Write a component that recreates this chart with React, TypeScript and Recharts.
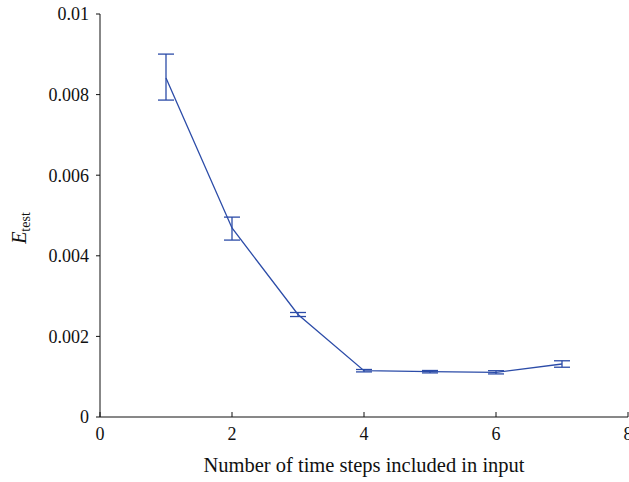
import React from "react";
import { LineChart, Line, XAxis, YAxis, ErrorBar } from "recharts";

const steps = [1, 2, 3, 4, 5, 6, 7];
const eTest = [0.00841, 0.00469, 0.002543, 0.001149, 0.001124, 0.001109, 0.001315];
const errLow = [0.000546, 0.0003, 0.00005, 0.00003, 0.00003, 0.00004, 0.00008];
const errHigh = [0.000595, 0.00027, 0.00005, 0.00003, 0.00003, 0.00004, 0.00008];
const xTicks = [0, 2, 4, 6, 8];
const yTicks = [0, 0.002, 0.004, 0.006, 0.008, 0.01];

const data = steps.map((s, i) => ({ x: s, y: eTest[i], err: [errLow[i], errHigh[i]] }));

const FONT = "'Liberation Serif', 'Times New Roman', serif";
const BLUE = "#2c4ca8";

const YLabel = () => (
  <text
    x={26}
    y={228}
    transform="rotate(-90, 26, 228)"
    textAnchor="middle"
    fontFamily={FONT}
    fontSize={20}
    fill="#111"
  >
    <tspan fontStyle="italic">E</tspan>
    <tspan fontSize={14} dy={4}>test</tspan>
  </text>
);

export default function App() {
  return (
    <div style={{ position: "absolute", left: 0, top: 0, width: 629, height: 482, background: "#fff" }}>
      <LineChart width={629} height={482} data={data} margin={{ top: 14, right: 1, left: 0, bottom: 0 }}>
        <XAxis
          dataKey="x"
          type="number"
          domain={[0, 8]}
          ticks={xTicks}
          interval={0}
          height={65}
          tickSize={-5}
          tickMargin={15}
          stroke="#111"
          tick={{ fill: "#111", fontFamily: FONT, fontSize: 18 }}
          label={{
            value: "Number of time steps included in input",
            position: "insideBottom",
            offset: 10,
            style: { fill: "#111", fontFamily: FONT, fontSize: 20.5, textAnchor: "middle" },
          }}
        />
        <YAxis
          type="number"
          domain={[0, 0.01]}
          ticks={yTicks}
          interval={0}
          width={100}
          tickSize={4}
          tickMargin={7}
          stroke="#111"
          tickFormatter={(v: number) => (v === 0 ? "0" : String(v))}
          tick={{ fill: "#111", fontFamily: FONT, fontSize: 18 }}
          label={{ content: () => <YLabel /> }}
        />
        <Line
          type="linear"
          dataKey="y"
          stroke={BLUE}
          strokeWidth={1.3}
          dot={false}
          isAnimationActive={false}
        >
          <ErrorBar dataKey="err" width={8} stroke={BLUE} strokeWidth={1.3} direction="y" />
        </Line>
      </LineChart>
    </div>
  );
}
